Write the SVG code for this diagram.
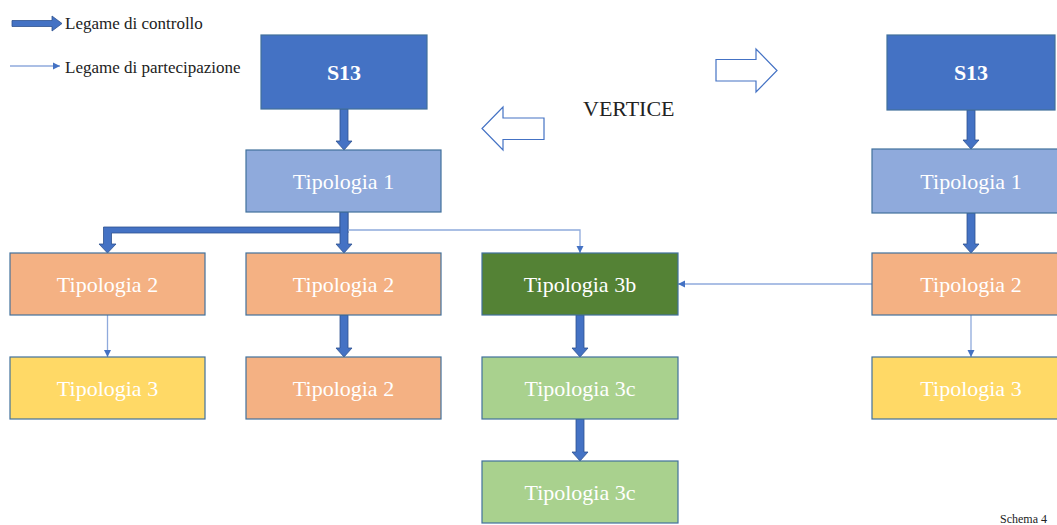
<svg xmlns="http://www.w3.org/2000/svg" width="1057" height="525" viewBox="0 0 1057 525">
<defs>
<marker id="thin" markerWidth="8" markerHeight="8" refX="7" refY="4" orient="auto" markerUnits="userSpaceOnUse">
<path d="M0,0.5 L7,4 L0,7.5 Z" fill="#4472C4"/>
</marker>
</defs>
<style>
.box{stroke:#41719C;stroke-width:1.2}
.lbl{font-family:"Liberation Serif",serif;font-size:22px;fill:#FFFFFF;text-anchor:middle}
.bold{font-weight:bold}
.thick{fill:#4472C4;stroke:#2F528F;stroke-width:0.8}
.thin{fill:none;stroke:#8FAADC;stroke-width:1.3;marker-end:url(#thin)}
.legend{font-family:"Liberation Serif",serif;font-size:17px;fill:#222222}
.outline{fill:#FFFFFF;stroke:#4472C4;stroke-width:1.2}
</style>
<rect width="1057" height="525" fill="#FFFFFF"/>

<g id="legend">
<polygon class="thick" points="12,20.5 52,20.5 52,16 62,23.5 52,31 52,26.5 12,26.5"/>
<text class="legend" x="65" y="29">Legame di controllo</text>
<path class="thin" d="M10,66 H60"/>
<text class="legend" x="65" y="73">Legame di partecipazione</text>
</g>

<g id="arrow-right-outline"><polygon class="outline" points="716,59.5 756,59.5 756,49 777,70.5 756,92 756,81 716,81"/></g>
<g id="arrow-left-outline"><polygon class="outline" points="544,118 503,118 503,107 482,128.5 503,150 503,139.5 544,139.5"/></g>
<g id="vertice"><text x="583" y="116" font-family="Liberation Serif, serif" font-size="22" fill="#222222">VERTICE</text></g>

<g id="connectors">
<polygon class="thick" points="340,109 348,109 348,141 352,141 344,150 336,141 340,141"/>
<polygon class="thick" points="340,212 348,212 348,233 111.5,233 111.5,244 116,244 107.5,253 99,244 103.5,244 103.5,227 340,227"/>
<polygon class="thick" points="340,212 348,212 348,244 352,244 344,253 336,244 340,244"/>
<path class="thin" d="M348,230 H580 V253"/>
<path class="thin" d="M107.5,315 V357"/>
<polygon class="thick" points="340,315 348,315 348,348 352,348 344,357 336,348 340,348"/>
<polygon class="thick" points="576,315 584,315 584,348 588,348 580,357 572,348 576,348"/>
<polygon class="thick" points="576,419 584,419 584,452 588,452 580,461 572,452 576,452"/>
<polygon class="thick" points="967,110 975,110 975,140 979,140 971,149 963,140 967,140"/>
<polygon class="thick" points="967,213 975,213 975,244 979,244 971,253 963,244 967,244"/>
<path class="thin" d="M971,315 V357"/>
<path class="thin" d="M872,284 H678"/>
</g>

<g id="s13-left"><rect class="box" x="261" y="35" width="166" height="74" fill="#4472C4"/><text class="lbl bold" x="344" y="80">S13</text></g>
<g id="tip1-left"><rect class="box" x="246" y="150" width="195" height="62" fill="#8FAADC"/><text class="lbl" x="343.5" y="189">Tipologia 1</text></g>
<g id="tip2-a"><rect class="box" x="10" y="253" width="195" height="62" fill="#F4B183"/><text class="lbl" x="107.5" y="292">Tipologia 2</text></g>
<g id="tip2-b"><rect class="box" x="246" y="253" width="195" height="62" fill="#F4B183"/><text class="lbl" x="343.5" y="292">Tipologia 2</text></g>
<g id="tip3b"><rect class="box" x="482" y="253" width="196" height="62" fill="#548235"/><text class="lbl" x="580" y="292">Tipologia 3b</text></g>
<g id="tip3-a"><rect class="box" x="10" y="357" width="195" height="62" fill="#FFD966"/><text class="lbl" x="107.5" y="396">Tipologia 3</text></g>
<g id="tip2-c"><rect class="box" x="246" y="357" width="195" height="62" fill="#F4B183"/><text class="lbl" x="343.5" y="396">Tipologia 2</text></g>
<g id="tip3c-a"><rect class="box" x="482" y="357" width="196" height="62" fill="#A9D18E"/><text class="lbl" x="580" y="396">Tipologia 3c</text></g>
<g id="tip3c-b"><rect class="box" x="482" y="461" width="196" height="62" fill="#A9D18E"/><text class="lbl" x="580" y="500">Tipologia 3c</text></g>

<g id="s13-right"><rect class="box" x="887" y="35" width="168" height="75" fill="#4472C4"/><text class="lbl bold" x="971" y="80">S13</text></g>
<g id="tip1-right"><rect class="box" x="872" y="149" width="190" height="64" fill="#8FAADC"/><text class="lbl" x="971" y="189">Tipologia 1</text></g>
<g id="tip2-right"><rect class="box" x="872" y="253" width="190" height="62" fill="#F4B183"/><text class="lbl" x="971" y="292">Tipologia 2</text></g>
<g id="tip3-right"><rect class="box" x="872" y="357" width="190" height="62" fill="#FFD966"/><text class="lbl" x="971" y="396">Tipologia 3</text></g>

<g id="caption"><text x="1000" y="523" font-family="Liberation Serif, serif" font-size="12" fill="#222222">Schema 4</text></g>
</svg>
